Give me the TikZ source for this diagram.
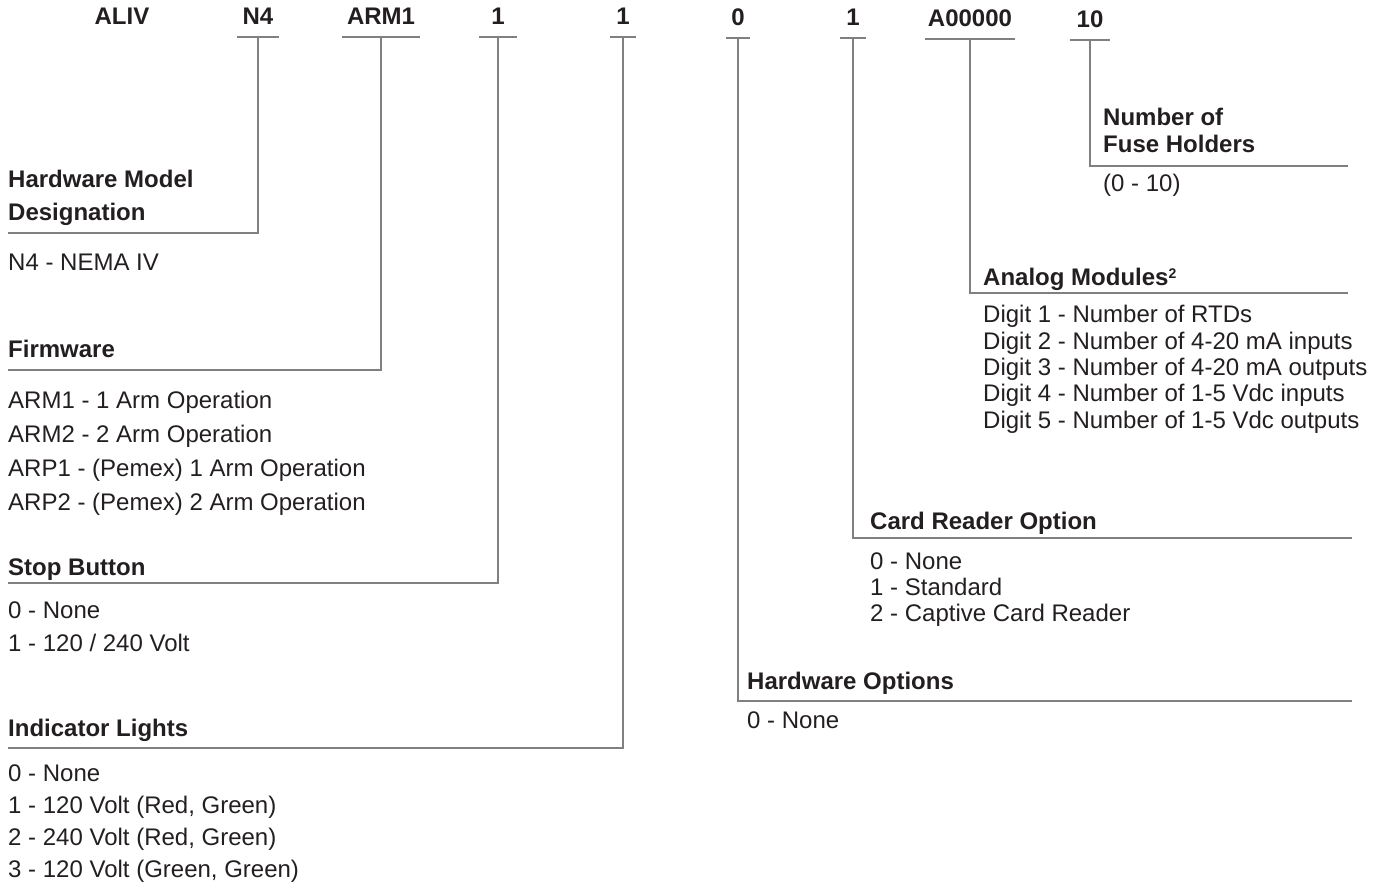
\documentclass[tikz,border=0pt]{standalone}
\usepackage{fontspec}
\setmainfont{Liberation Sans}
\usepackage{tikz}
\usetikzlibrary{positioning}
\definecolor{inkdark}{RGB}{35, 31, 32}
\definecolor{rulegray}{RGB}{128, 128, 128}

\begin{document}
\begin{tikzpicture}[
    x=1pt, y=-1pt,
    code/.style={font=\fontsize{24}{28}\selectfont\bfseries, text=inkdark,
                 anchor=base, inner xsep=0pt, inner ysep=12pt, text depth=0pt,
                 minimum width=#1},
    code/.default=25pt,
    head/.style={font=\fontsize{24}{28}\selectfont\bfseries, text=inkdark,
                 anchor=base west, inner sep=0pt},
    item/.style={font=\fontsize{24}{28}\selectfont, text=inkdark,
                 anchor=base west, inner sep=0pt},
    rule/.style={draw=rulegray, line width=1.5pt}
]
    \useasboundingbox (0,0) rectangle (1379,885);

    % model code
    \node[code] (cALIV) at (122,25) {ALIV};
    \node[code=42pt] (cN4) at (258,25) {N4};
    \node[code=78pt] (cARM) at (381,25) {ARM1};
    \node[code=37pt] (cStop) at (498,25) {1};
    \node[code=26pt] (cLight) at (623,25) {1};
    \node[code=24pt] (cHwOpt) at (738,26) {0};
    \node[code=25pt] (cCard) at (853,26) {1};
    \node[code=90pt] (cAnalog) at (970,27) {A00000};
    \node[code=39pt] (cFuse) at (1090,28) {10};

    \foreach \c in {cN4, cARM, cStop, cLight, cHwOpt, cCard, cAnalog, cFuse}
        \draw[rule] (\c.south west) -- (\c.south east);

    % ends of the heading rules
    \coordinate (rHW) at (8,233);
    \coordinate (rFW) at (8,370);
    \coordinate (rStop) at (8,583);
    \coordinate (rLight) at (8,748);
    \coordinate (rHwOpt) at (1352,701);
    \coordinate (rCard) at (1352,538);
    \coordinate (rAnalog) at (1348,293);
    \coordinate (rFuse) at (1348,166);

    \draw[rule] (cN4.south) |- (rHW);
    \draw[rule] (cARM.south) |- (rFW);
    \draw[rule] (cStop.south) |- (rStop);
    \draw[rule] (cLight.south) |- (rLight);
    \draw[rule] (cHwOpt.south) |- (rHwOpt);
    \draw[rule] (cCard.south) |- (rCard);
    \draw[rule] (cAnalog.south) |- (rAnalog);
    \draw[rule] (cFuse.south) |- (rFuse);

    % left column
    \node[head] (hHW1) at (8,188) {Hardware Model};
    \node[head] (hHW2) at (8,221) {Designation};
    \node[item] (iHW) at (8,271) {N4 - NEMA IV};

    \node[head] (hFW) at (8,358) {Firmware};
    \foreach \txt [count=\i from 0] in {ARM1 - 1 Arm Operation, ARM2 - 2 Arm Operation,
            ARP1 - (Pemex) 1 Arm Operation, ARP2 - (Pemex) 2 Arm Operation}
        \node[item] (iFW\i) at (8,{408+34.3*\i}) {\txt};

    \node[head] (hStop) at (8,575) {Stop Button};
    \foreach \txt [count=\i from 0] in {0 - None, 1 - 120 / 240 Volt}
        \node[item] (iStop\i) at (8,{618+33*\i}) {\txt};

    \node[head] (hLight) at (8,736) {Indicator Lights};
    \foreach \txt [count=\i from 0] in {0 - None, {1 - 120 Volt (Red, Green)},
            {2 - 240 Volt (Red, Green)}, {3 - 120 Volt (Green, Green)}}
        \node[item] (iLight\i) at (8,{781+32*\i}) {\txt};

    % right column
    \node[head] (hFuse1) at (1103,126) {Number of};
    \node[head] (hFuse2) at (1103,153) {Fuse Holders};
    \node[item] (iFuse) at (1103,192) {(0 - 10)};

    \node[head] (hAnalog) at (983,286) {Analog Modules{\fontsize{14}{14}\selectfont\raisebox{7pt}{2}}};
    \foreach \txt [count=\i from 0] in {Digit 1 - Number of RTDs,
            Digit 2 - Number of 4-20 mA inputs, Digit 3 - Number of 4-20 mA outputs,
            Digit 4 - Number of 1-5 Vdc inputs, Digit 5 - Number of 1-5 Vdc outputs}
        \node[item] (iAnalog\i) at (983,{323+26.3*\i}) {\txt};

    \node[head] (hCard) at (870,529) {Card Reader Option};
    \foreach \txt [count=\i from 0] in {0 - None, 1 - Standard, 2 - Captive Card Reader}
        \node[item] (iCard\i) at (870,{569+26*\i}) {\txt};

    \node[head] (hHwOpt) at (747,689) {Hardware Options};
    \node[item] (iHwOpt) at (747,728) {0 - None};
\end{tikzpicture}
\end{document}
